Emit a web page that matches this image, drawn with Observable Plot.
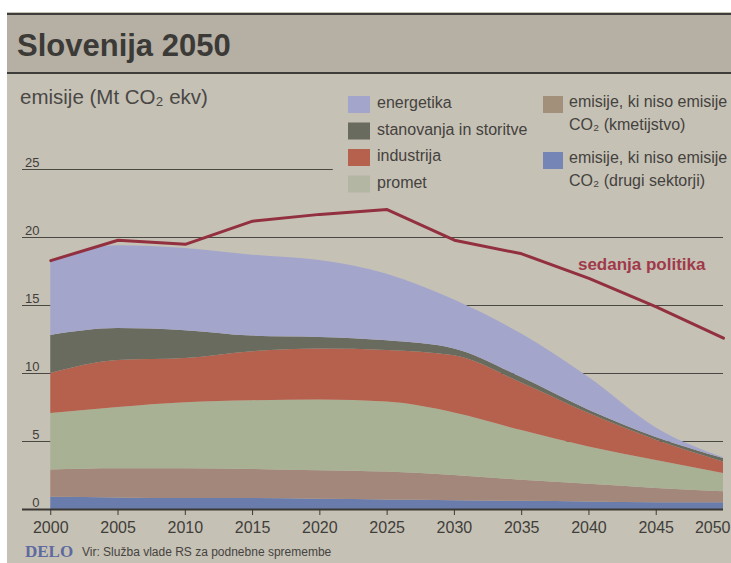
<!DOCTYPE html>
<html>
<head>
<meta charset="utf-8">
<script src="https://cdn.jsdelivr.net/npm/d3@7"></script>
<script src="https://cdn.jsdelivr.net/npm/@observablehq/plot@0.6"></script>
<style>
  body { margin: 0; background: #ffffff; }
  #page { position: relative; width: 731px; height: 563px; overflow: hidden; background: #ffffff;
          font-family: "Liberation Sans", Arial, sans-serif; }
  #paper { position: absolute; left: 7px; top: 12px; width: 724px; height: 551px; background: #c6c1b5; }
  #band { position: absolute; left: 7px; top: 13px; width: 724px; height: 57px; background: #b5afa4;
          border-top: 2px solid #3f3d39; border-bottom: 2px solid #3f3d39; }
  #chart { position: absolute; left: 0; top: 0; }
  #overlay { position: absolute; left: 0; top: 0; pointer-events: none; }
</style>
</head>
<body>
<div id="page">
  <div id="paper"></div>
  <div id="band"></div>
  <div id="chart"></div>
  <svg id="overlay" width="731" height="563" font-family="Liberation Sans, Arial, sans-serif"></svg>
</div>
<script>
// ---- data (Mt CO2 ekv) ----
const years = [2000, 2005, 2010, 2015, 2020, 2025, 2030, 2035, 2040, 2045, 2050];
const drugiSektorji = [0.9, 0.85, 0.8, 0.8, 0.75, 0.7, 0.65, 0.6, 0.55, 0.5, 0.5];
const kmetijstvo    = [2.0, 2.15, 2.2, 2.15, 2.1, 2.05, 1.85, 1.55, 1.3, 1.05, 0.8];
const promet        = [4.15, 4.5, 4.85, 5.05, 5.2, 5.15, 4.6, 3.65, 2.75, 2.05, 1.35];
const industrija    = [2.95, 3.45, 3.25, 3.6, 3.75, 3.8, 4.2, 3.5, 2.45, 1.5, 0.85];
const stanovanja    = [2.8, 2.35, 2.05, 1.15, 0.85, 0.7, 0.5, 0.4, 0.25, 0.2, 0.25];
const energetika    = [5.5, 6.1, 6.05, 5.95, 5.65, 4.9, 3.6, 3.2, 2.4, 0.7, 0.05];
const sedanjaPolitika = [18.3, 19.8, 19.5, 21.2, 21.7, 22.05, 19.8, 18.8, 17.0, 14.9, 12.6];

const sectorNames = ["drugi sektorji", "kmetijstvo", "promet", "industrija", "stanovanja in storitve", "energetika"];
const sectorSeries = [drugiSektorji, kmetijstvo, promet, industrija, stanovanja, energetika];
const sectorColors = ["#6a7cab", "#a3877a", "#a8b194", "#b5614d", "#696b5f", "#a4a5cb"];

const xTickLabels = [2000, 2005, 2010, 2015, 2020, 2025, 2030, 2035, 2040, 2045, 2050];
const yTickLabels = [0, 5, 10, 15, 20, 25];
const policyLabel = "sedanja politika";

// legend texts
const legendLeft = ["energetika", "stanovanja in storitve", "industrija", "promet"];
const legendLeftColors = ["#a4a5cb", "#696b5f", "#b5614d", "#b3b6a3"];
const legendRight = [["emisije, ki niso emisije", "CO₂ (kmetijstvo)"], ["emisije, ki niso emisije", "CO₂ (drugi sektorji)"]];
const legendRightColors = ["#a3907a", "#7586b6"];

// ---- tables ----
const table = sectorNames.flatMap((s, i) => years.map((yr, j) => ({year: yr, sector: s, value: sectorSeries[i][j]})));
const policy = years.map((yr, j) => ({year: yr, value: sedanjaPolitika[j]}));

const xDomain = [1997.9, 2050];
const font = "Liberation Sans, Arial, sans-serif";

const chart = Plot.plot({
  width: 731,
  height: 563,
  marginLeft: 22,
  marginRight: 8,
  marginTop: 169,
  marginBottom: 54,
  x: {domain: xDomain, label: null},
  y: {domain: [0, 25], label: null},
  color: {domain: sectorNames, range: sectorColors},
  style: {background: "transparent", fontFamily: font, overflow: "visible"},
  marks: [
    Plot.ruleY(yTickLabels.filter(d => d > 0 && d < 25), {stroke: "#4a4843", strokeWidth: 1}),
    Plot.ruleY([25], {x1: xDomain[0], x2: 2021, stroke: "#4a4843", strokeWidth: 1}),
    Plot.areaY(table, {x: "year", y: "value", fill: "sector", order: sectorNames, curve: "monotone-x"}),
    Plot.lineY(policy, {x: "year", y: "value", stroke: "#93303f", strokeWidth: 3, curve: "linear"}),
    Plot.text(policy.filter(d => d.year === 2040), {
      x: "year", y: "value", text: () => policyLabel,
      textAnchor: "start", lineAnchor: "bottom", dx: -11, dy: -8,
      fill: "#a03a4b", fontSize: 17, fontWeight: "bold"
    }),
    Plot.ruleY([0], {stroke: "#3a3935", strokeWidth: 1.8}),
    Plot.axisX({ticks: xTickLabels.slice(0, -1), tickFormat: d => String(d), tickSize: 6, tickPadding: 6,
      stroke: "#3a3935", fill: "#3f3e3a", fontSize: 16}),
    Plot.axisX({ticks: xTickLabels.slice(-1), tickFormat: d => String(d), tickSize: 0, tickPadding: 12,
      textAnchor: "end", dx: 7, fill: "#3f3e3a", fontSize: 16}),
    Plot.axisY({ticks: yTickLabels, tickSize: 0, tickPadding: 0, dx: 17, textAnchor: "end",
      lineAnchor: "bottom", dy: -3, fill: "#3f3d3a", fontSize: 13})
  ]
});
document.getElementById("chart").appendChild(chart);

// ---- title, subtitle, legend, caption ----
const ov = d3.select("#overlay");
ov.append("text").attr("x", 17).attr("y", 56).attr("font-size", 31).attr("font-weight", "bold")
  .attr("fill", "#3b3a37").text("Slovenija 2050");
ov.append("text").attr("x", 20).attr("y", 104).attr("font-size", 20.5)
  .attr("fill", "#4a4845").text("emisije (Mt CO₂ ekv)");

legendLeft.forEach((t, i) => {
  const base = 108 + i * 26.5;
  ov.append("rect").attr("x", 348).attr("y", base - 12).attr("width", 22).attr("height", 17)
    .attr("fill", legendLeftColors[i]);
  ov.append("text").attr("x", 377).attr("y", base).attr("font-size", 16).attr("fill", "#44423e").text(t);
});
legendRight.forEach((lines, i) => {
  const base = 107 + i * 56;
  ov.append("rect").attr("x", 543).attr("y", base - 11).attr("width", 20).attr("height", 17)
    .attr("fill", legendRightColors[i]);
  lines.forEach((l, k) => {
    ov.append("text").attr("x", 569).attr("y", base + k * 22.5).attr("font-size", 16)
      .attr("fill", "#44423e").text(l);
  });
});

ov.append("text").attr("x", 25).attr("y", 557).attr("font-size", 17).attr("font-weight", "bold")
  .attr("font-family", "Liberation Serif, serif").attr("fill", "#5d6aa0").text("DELO");
ov.append("text").attr("x", 82).attr("y", 556).attr("font-size", 12)
  .attr("fill", "#45433f").text("Vir: Služba vlade RS za podnebne spremembe");
</script>
</body>
</html>
